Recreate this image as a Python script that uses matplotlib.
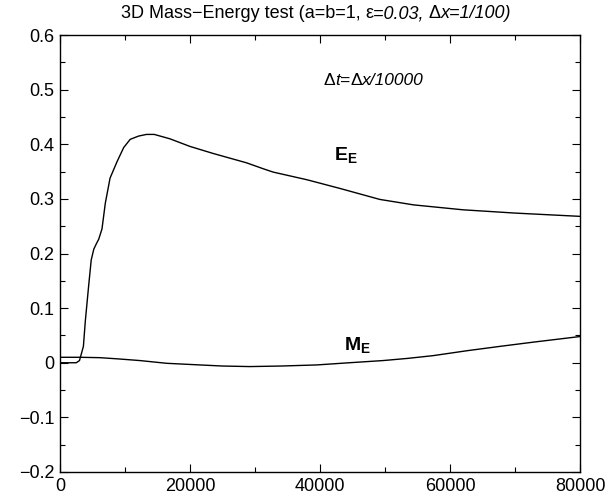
import matplotlib
matplotlib.use("Agg")
import matplotlib.pyplot as plt
from matplotlib.ticker import MultipleLocator

plt.rcParams['font.family'] = ['Liberation Sans', 'DejaVu Sans']
plt.rcParams['mathtext.fontset'] = 'custom'
plt.rcParams['mathtext.rm'] = 'Liberation Sans'
plt.rcParams['mathtext.it'] = 'Liberation Sans:italic'
plt.rcParams['mathtext.bf'] = 'Liberation Sans:bold'

# ---- data ----
e_x = [0, 1000, 2500, 3000, 3300, 3600, 3900, 4400, 4800, 5200, 5600, 5950, 6460,
       6970, 7700, 8770, 9800, 10800, 12100, 13300, 14500, 16900, 20000, 23600,
       28700, 31300, 32800, 38000, 43100, 49200, 54400, 62000, 70000, 80000]
e_y = [0.0, 0.0, 0.0, 0.004, 0.017, 0.030, 0.077, 0.140, 0.188, 0.208, 0.218, 0.226, 0.245,
       0.292, 0.338, 0.368, 0.394, 0.409, 0.415, 0.418, 0.418, 0.410, 0.396, 0.383,
       0.366, 0.355, 0.349, 0.335, 0.319, 0.299, 0.289, 0.280, 0.274, 0.268]

m_x = [0, 3100, 6150, 9000, 12300, 16400, 21500, 25000, 29200, 34000, 39500,
       44500, 49700, 53500, 57400, 62600, 67700, 73000, 80000]
m_y = [0.010, 0.010, 0.0093, 0.007, 0.004, -0.001, -0.004, -0.006, -0.007, -0.006,
       -0.004, 0.000, 0.004, 0.008, 0.013, 0.022, 0.030, 0.038, 0.048]

x_major = [0, 20000, 40000, 60000, 80000]
y_major = [-0.2, -0.1, 0, 0.1, 0.2, 0.3, 0.4, 0.5, 0.6]
y_labels = ['\u22120.2', '\u22120.1', '0', '0.1', '0.2', '0.3', '0.4', '0.5', '0.6']

fig = plt.figure(figsize=(6.08, 4.97), dpi=100)
W, H = 608, 497
ax = fig.add_axes([60 / W, 1 - 472 / H, 520 / W, 437 / H])

ax.plot(e_x, e_y, color='black', lw=1.0)
ax.plot(m_x, m_y, color='black', lw=1.0)

ax.set_xlim(0, 80000)
ax.set_ylim(-0.2, 0.6)
ax.set_xticks(x_major)
ax.set_xticklabels([str(v) for v in x_major])
ax.set_yticks(y_major)
ax.set_yticklabels(y_labels)
ax.xaxis.set_minor_locator(MultipleLocator(10000))
ax.yaxis.set_minor_locator(MultipleLocator(0.05))
ax.tick_params(which='both', direction='in', top=True, right=True, labelsize=13, width=0.8)
ax.tick_params(which='major', length=6, pad=4)
ax.tick_params(which='minor', length=3.5)
for s in ax.spines.values():
    s.set_linewidth(1.0)

fig.canvas.draw()
renderer = fig.canvas.get_renderer()


def pieces_text(x, y, pieces, size, transform):
    """Draw consecutive text pieces (text, style) centred at (x, y)."""
    objs = []
    for txt, style in pieces:
        t = fig.text(0, 0, txt, fontsize=size, style=style, ha='left', va='center')
        objs.append(t)
    widths = [o.get_window_extent(renderer).width for o in objs]
    total = sum(widths)
    px, py = transform.transform((x, y))
    cur = px - total / 2
    inv = fig.transFigure.inverted()
    for o, w in zip(objs, widths):
        o.set_position(inv.transform((cur, py)))
        cur += w


pieces_text(0.52, 1 - 14 / H,
            [('3D Mass\u2212Energy test (a=b=1, ', 'normal'), ('\u03b5', 'normal'),
             ('=0.03, ', 'italic'), ('\u0394', 'normal'), ('x=1/100)', 'italic')],
            13, fig.transFigure)

pieces_text(48300, 0.516,
            [('\u0394', 'normal'), ('t=', 'italic'), ('\u0394', 'normal'), ('x/10000', 'italic')],
            12.5, ax.transData)

ax.text(44000, 0.381, r'$\mathbf{E}_{\mathbf{E}}$', fontsize=14, ha='center', va='center')
ax.text(45700, 0.033, r'$\mathbf{M}_{\mathbf{E}}$', fontsize=14, ha='center', va='center')

fig.savefig('out.png', dpi=100)
